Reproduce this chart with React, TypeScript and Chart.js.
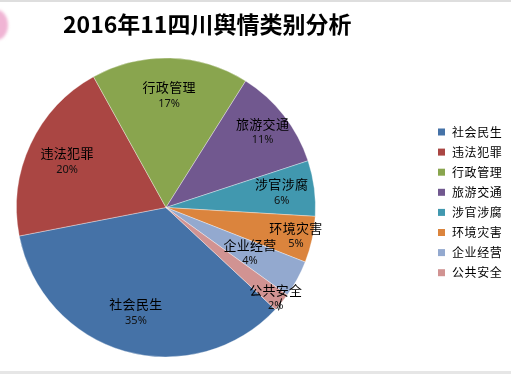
import React, { useEffect, useRef } from "react";
import { Chart, registerables } from "chart.js";

Chart.register(...registerables);

const titleText = "2016年11四川舆情类别分析";
const categories = ["社会民生", "违法犯罪", "行政管理", "旅游交通", "涉官涉腐", "环境灾害", "企业经营", "公共安全"];
const shares = [35, 20, 17, 11, 6, 5, 4, 2];
const percentLabels = ["35%", "20%", "17%", "11%", "6%", "5%", "4%", "2%"];

// styles
const colors = ["#4572A7", "#AA4643", "#89A54E", "#71588F", "#4198AF", "#DB843D", "#93A9CF", "#D19392"];
const labelRadius = [0.73, 0.73, 0.75, 0.82, 0.78, 0.89, 0.64, 0.95];
const CJK = '"Noto Sans CJK SC", "Noto Sans", sans-serif';

const overlay = {
  id: "overlay",
  afterDatasetsDraw(chart: any) {
    const ctx = chart.ctx as CanvasRenderingContext2D;
    const meta = chart.getDatasetMeta(0);
    ctx.save();
    ctx.textAlign = "center";
    ctx.textBaseline = "middle";
    meta.data.forEach((arc: any, i: number) => {
      const p = arc.getProps(["x", "y", "startAngle", "endAngle", "outerRadius"], true);
      const mid = (p.startAngle + p.endAngle) / 2;
      const r = p.outerRadius * labelRadius[i];
      const lx = p.x + Math.cos(mid) * r;
      const ly = p.y + Math.sin(mid) * r;
      ctx.fillStyle = "#000";
      ctx.font = `13px ${CJK}`;
      (ctx as any).letterSpacing = "0.3px";
      ctx.fillText(categories[i], lx, ly - 8);
      (ctx as any).letterSpacing = "0px";
      ctx.fillStyle = "#111";
      ctx.font = `11px "Noto Sans", ${CJK}`;
      ctx.fillText(percentLabels[i], lx, ly + 8);
      if (labelRadius[i] > 0.92) {
        const ex = p.x + Math.cos(mid) * p.outerRadius;
        const ey = p.y + Math.sin(mid) * p.outerRadius;
        ctx.strokeStyle = "#000";
        ctx.lineWidth = 1;
        ctx.beginPath();
        ctx.moveTo(ex, ey - 4);
        ctx.lineTo(ex - 3, ey + 8);
        ctx.stroke();
      }
    });

    // title
    ctx.textAlign = "left";
    ctx.fillStyle = "#000";
    ctx.font = `bold 23px ${CJK}`;
    ctx.fillText(titleText, 63, 24);

    // legend
    ctx.font = `12px ${CJK}`;
    (ctx as any).letterSpacing = "0.6px";
    categories.forEach((c, i) => {
      const y = 132 + i * 20.1;
      ctx.fillStyle = colors[i];
      ctx.fillRect(438, y - 3.5, 7, 7);
      ctx.fillStyle = "#000";
      ctx.fillText(c, 452, y);
    });
    ctx.restore();
  },
};

export default function App() {
  const ref = useRef<HTMLCanvasElement | null>(null);
  useEffect(() => {
    if (!ref.current) return;
    const chart = new Chart(ref.current, {
      type: "pie",
      data: {
        labels: categories,
        datasets: [
          {
            data: shares,
            backgroundColor: colors,
            borderColor: "rgba(255,255,255,0.35)",
            borderWidth: 1,
          },
        ],
      },
      options: {
        responsive: false,
        animation: false,
        rotation: 133,
        layout: { padding: { left: 16, top: 57, right: 195, bottom: 16 } },
        plugins: {
          legend: { display: false },
          title: { display: false },
          tooltip: { enabled: false },
        },
      },
      plugins: [overlay],
    });
    return () => chart.destroy();
  }, []);

  return (
    <div style={{ position: "fixed", left: 0, top: 0, width: 511, height: 374, background: "#fff", overflow: "hidden" }}>
      <div style={{ position: "absolute", left: 0, top: 0, width: 511, height: 2, background: "#dedede" }} />
      <div
        style={{
          position: "absolute",
          left: -14,
          top: 10,
          width: 22,
          height: 30,
          borderRadius: "50%",
          background: "#f0b4d4",
          filter: "blur(1.5px)",
        }}
      />
      <canvas ref={ref} width={511} height={374} style={{ position: "absolute", left: 0, top: 0 }} />
      <div style={{ position: "absolute", left: 0, top: 371, width: 511, height: 3, background: "#e6e6e6" }} />
    </div>
  );
}
